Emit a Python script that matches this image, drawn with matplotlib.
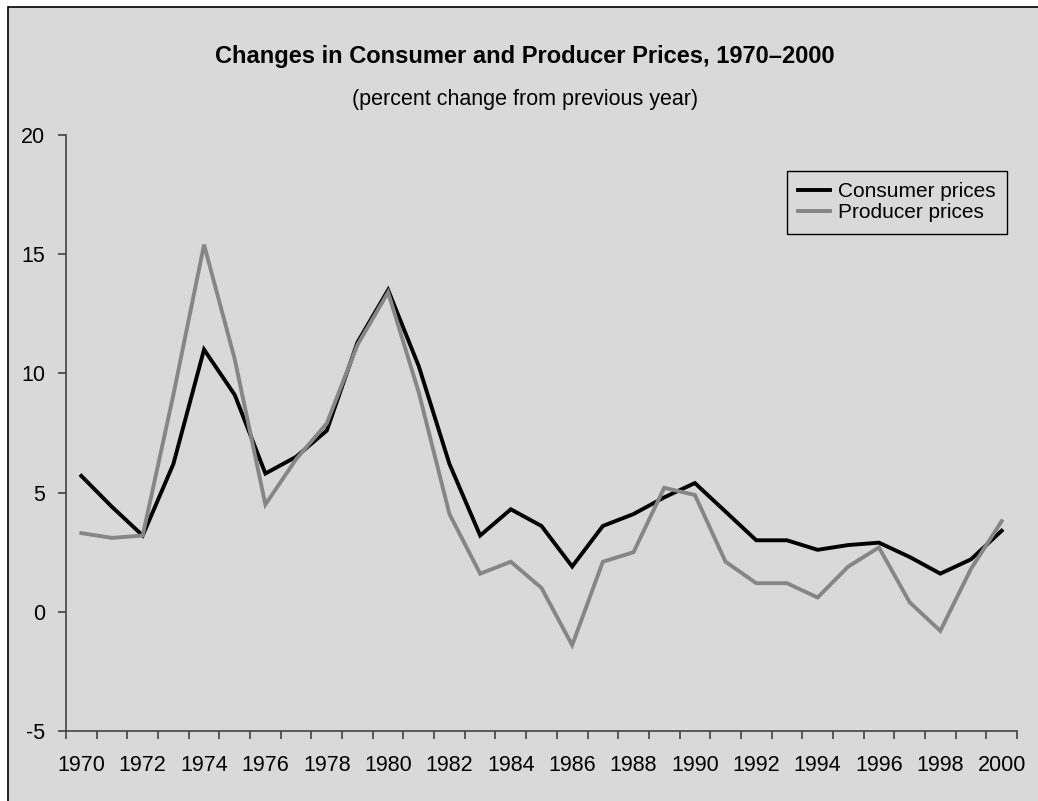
import numpy as np
import matplotlib
matplotlib.use("Agg")
import matplotlib.pyplot as plt
from matplotlib.patches import Rectangle

plt.rcParams['font.family'] = ['Liberation Sans', 'DejaVu Sans']
plt.rcParams['axes.unicode_minus'] = False

# Data (percent change from previous year)
years = list(range(1970, 2001))
consumer = [5.7, 4.4, 3.2, 6.2, 11.0, 9.1, 5.8, 6.5, 7.6, 11.3, 13.5,
            10.3, 6.2, 3.2, 4.3, 3.6, 1.9, 3.6, 4.1, 4.8, 5.4,
            4.2, 3.0, 3.0, 2.6, 2.8, 2.9, 2.3, 1.6, 2.2, 3.4]
producer = [3.3, 3.1, 3.2, 9.1, 15.4, 10.6, 4.5, 6.4, 7.9, 11.2, 13.4,
            9.2, 4.1, 1.6, 2.1, 1.0, -1.4, 2.1, 2.5, 5.2, 4.9,
            2.1, 1.2, 1.2, 0.6, 1.9, 2.7, 0.4, -0.8, 1.8, 3.8]
yticks = [-5, 0, 5, 10, 15, 20]

bg = '#d9d9d9'
W, H = 1038, 801
fig = plt.figure(figsize=(W / 100, H / 100), dpi=100, facecolor='white')

# outer frame (only top/left edges visible in the crop)
fig.add_artist(Rectangle((8 / W, -0.1), 1.2, 1 - 7 / H + 0.1, transform=fig.transFigure,
                         facecolor=bg, edgecolor='black', linewidth=1.2, zorder=-10))

ax = fig.add_axes([66 / W, 1 - 731 / H, (1017 - 66) / W, (731 - 135) / H])
ax.set_facecolor(bg)
ax.patch.set_alpha(0)

x = np.arange(len(years))
ax.plot(x, consumer, color='black', linewidth=2.8, label='Consumer prices',
        solid_joinstyle='miter')
ax.plot(x, producer, color='#868686', linewidth=2.8, label='Producer prices',
        solid_joinstyle='miter')

ax.set_xlim(-0.5, len(years) - 0.5)
ax.set_ylim(-5, 20)

for s in ['top', 'right']:
    ax.spines[s].set_visible(False)
for s in ['left', 'bottom']:
    ax.spines[s].set_color('#444444')
    ax.spines[s].set_linewidth(1.2)

# ticks between categories, labels under every second category
ax.set_xticks(np.arange(-0.5, len(years), 1))
ax.set_xticklabels([])
ax.set_xticks(x[::2], minor=True)
ax.set_xticklabels([str(y) for y in years[::2]], minor=True)
ax.tick_params(axis='x', which='major', direction='out', length=6, width=1.2, color='#444444')
ax.tick_params(axis='x', which='minor', length=0, pad=17, labelsize=15.5)

ax.set_yticks(yticks)
ax.set_yticklabels([str(v) for v in yticks])
ax.tick_params(axis='y', direction='out', length=6, width=1.2, color='#444444',
               pad=9, labelsize=15.5)

fig.text(525 / W, 1 - 57 / H, 'Changes in Consumer and Producer Prices, 1970–2000',
         ha='center', va='center', fontsize=17, fontweight='bold')
fig.text(525 / W, 1 - 100 / H, '(percent change from previous year)',
         ha='center', va='center', fontsize=15.5)

leg = ax.legend(loc='upper right', bbox_to_anchor=(1007 / W, 1 - 171 / H),
                bbox_transform=fig.transFigure, fontsize=15, frameon=True,
                fancybox=False, facecolor=bg, edgecolor='black', framealpha=1,
                handlelength=1.5, handletextpad=0.4, labelspacing=0.08,
                borderpad=0.55, borderaxespad=0)
leg.get_frame().set_linewidth(1.0)

fig.savefig('out.png', dpi=100, facecolor='white')
